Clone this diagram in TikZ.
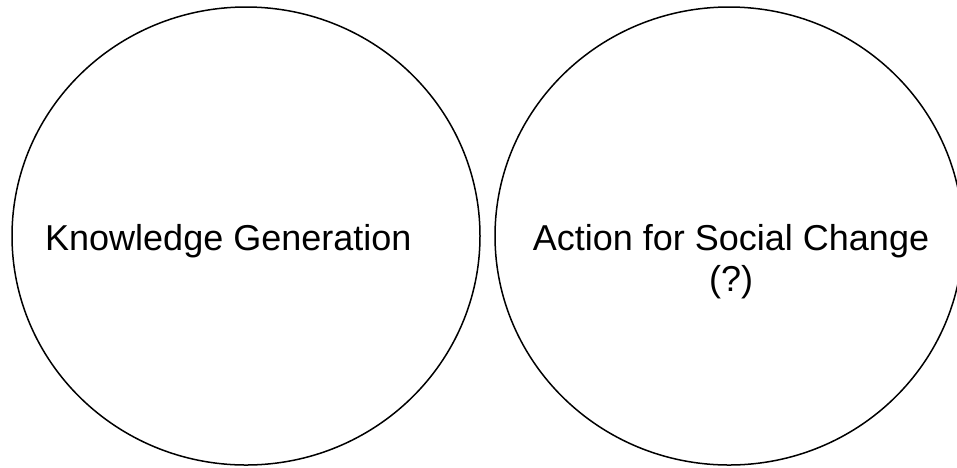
\documentclass[tikz,border=0pt]{standalone}
\usepackage{fontspec}
\setmainfont{Liberation Sans}
\usetikzlibrary{shapes.geometric}
\begin{document}
\begin{tikzpicture}[x=1pt,y=-1pt,
  bubble/.style={draw=black, line width=1.5pt, ellipse, inner sep=0pt},
  label/.style={font=\fontsize{36}{41}\selectfont, inner sep=0pt}]
\useasboundingbox (0,0) rectangle (957,467);
\clip (0,0) rectangle (957,467);
\node[bubble, minimum width=468pt, minimum height=458pt] (left) at (246,236) {};
\node[bubble, minimum width=468pt, minimum height=458pt] (right) at (729,236) {};
\node[label, anchor=base west] (kg) at (45,250) {Knowledge Generation};
\node[label, anchor=base] (asc) at (731,250) {Action for Social Change};
\node[label, anchor=base] (q) at (731,291) {(?)};
\end{tikzpicture}
\end{document}
